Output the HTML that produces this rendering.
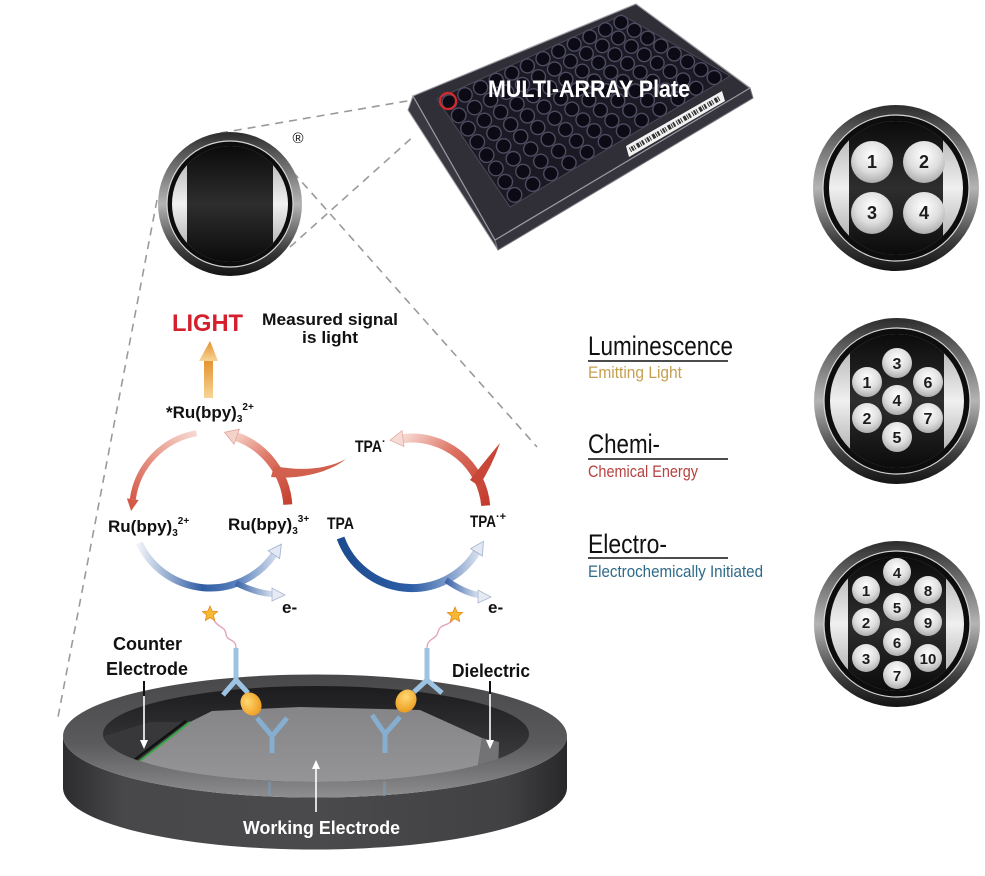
<!DOCTYPE html>
<html><head><meta charset="utf-8"><style>
html,body{margin:0;padding:0;background:#fff;width:985px;height:876px;overflow:hidden;}
svg{display:block;}
text{font-family:"Liberation Sans",sans-serif;}
</style></head><body>
<svg width="985" height="876" viewBox="0 0 985 876" xmlns="http://www.w3.org/2000/svg">
<defs>
 <linearGradient id="metal" x1="0" y1="0" x2="0" y2="1">
  <stop offset="0" stop-color="#2c2c2c"/>
  <stop offset="0.15" stop-color="#575757"/>
  <stop offset="0.5" stop-color="#b4b4b4"/>
  <stop offset="0.82" stop-color="#3c3c3c"/>
  <stop offset="1" stop-color="#141414"/>
 </linearGradient>
 <linearGradient id="band" x1="0" y1="0" x2="0" y2="1">
  <stop offset="0" stop-color="#0b0b0b"/>
  <stop offset="0.5" stop-color="#2e2e2e"/>
  <stop offset="1" stop-color="#0b0b0b"/>
 </linearGradient>
 <linearGradient id="silver" x1="0" y1="0" x2="0" y2="1">
  <stop offset="0" stop-color="#a8a8a8"/>
  <stop offset="0.5" stop-color="#f0f0f0"/>
  <stop offset="1" stop-color="#a0a0a0"/>
 </linearGradient>
 <radialGradient id="spot" cx="0.5" cy="0.35" r="0.7">
  <stop offset="0" stop-color="#ffffff"/>
  <stop offset="0.55" stop-color="#dedede"/>
  <stop offset="1" stop-color="#a4a4a4"/>
 </radialGradient>
 <clipPath id="cpL"><circle cx="230" cy="204" r="58"/></clipPath>
 <clipPath id="cp1"><circle cx="896" cy="188" r="67"/></clipPath>
 <clipPath id="cp2"><circle cx="897" cy="401" r="67"/></clipPath>
 <clipPath id="cp3"><circle cx="897" cy="624" r="67"/></clipPath>
 <clipPath id="hole"><ellipse cx="316" cy="734" rx="213" ry="48"/></clipPath>
 <linearGradient id="rimG" gradientUnits="userSpaceOnUse" x1="0" y1="675" x2="0" y2="798">
  <stop offset="0" stop-color="#48484a"/>
  <stop offset="0.55" stop-color="#5a5a5c"/>
  <stop offset="0.82" stop-color="#78787a"/>
  <stop offset="1" stop-color="#8e8e90"/>
 </linearGradient>
 <linearGradient id="sideG" x1="0" y1="0" x2="1" y2="0">
  <stop offset="0" stop-color="#2c2c2e"/>
  <stop offset="0.12" stop-color="#48484a"/>
  <stop offset="0.5" stop-color="#4a4a4c"/>
  <stop offset="0.88" stop-color="#414143"/>
  <stop offset="1" stop-color="#28282a"/>
 </linearGradient>
 <linearGradient id="holeG" gradientUnits="userSpaceOnUse" x1="0" y1="686" x2="0" y2="760">
  <stop offset="0" stop-color="#1c1c1e"/>
  <stop offset="1" stop-color="#3a3a3c"/>
 </linearGradient>
 <linearGradient id="floorG" gradientUnits="userSpaceOnUse" x1="0" y1="705" x2="0" y2="785">
  <stop offset="0" stop-color="#858587"/>
  <stop offset="1" stop-color="#959597"/>
 </linearGradient>
 <linearGradient id="lbG" gradientUnits="userSpaceOnUse" x1="139" y1="0" x2="280" y2="0">
  <stop offset="0" stop-color="#eef2f8"/>
  <stop offset="0.45" stop-color="#2f5da3"/>
  <stop offset="0.7" stop-color="#5c82bd"/>
  <stop offset="1" stop-color="#dde5f2"/>
 </linearGradient>
 <linearGradient id="rbG" gradientUnits="userSpaceOnUse" x1="340" y1="0" x2="482" y2="0">
  <stop offset="0" stop-color="#1c4a8e"/>
  <stop offset="0.5" stop-color="#2d5ea6"/>
  <stop offset="0.8" stop-color="#8aa5cf"/>
  <stop offset="1" stop-color="#e4e9f3"/>
 </linearGradient>
 <linearGradient id="brG" gradientUnits="userSpaceOnUse" x1="236" y1="0" x2="275" y2="0">
  <stop offset="0" stop-color="#3a64a8"/>
  <stop offset="1" stop-color="#dfe6f2"/>
 </linearGradient>
 <linearGradient id="brG2" gradientUnits="userSpaceOnUse" x1="446" y1="0" x2="480" y2="0">
  <stop offset="0" stop-color="#3a64a8"/>
  <stop offset="1" stop-color="#dfe6f2"/>
 </linearGradient>
 <linearGradient id="raG" gradientUnits="userSpaceOnUse" x1="196" y1="433" x2="133" y2="500">
  <stop offset="0" stop-color="#f7d8d0"/>
  <stop offset="1" stop-color="#d65a48"/>
 </linearGradient>
 <linearGradient id="rrG" gradientUnits="userSpaceOnUse" x1="288" y1="505" x2="237" y2="437">
  <stop offset="0" stop-color="#c5402f"/>
  <stop offset="0.6" stop-color="#de7766"/>
  <stop offset="1" stop-color="#f4c9be"/>
 </linearGradient>
 <linearGradient id="r2G" gradientUnits="userSpaceOnUse" x1="486" y1="506" x2="403" y2="439">
  <stop offset="0" stop-color="#c23a2d"/>
  <stop offset="0.55" stop-color="#dc6f5f"/>
  <stop offset="1" stop-color="#f6d6ce"/>
 </linearGradient>
 <linearGradient id="orG" x1="0" y1="1" x2="0" y2="0">
  <stop offset="0" stop-color="#f7d596"/>
  <stop offset="1" stop-color="#e3902c"/>
 </linearGradient>
 <radialGradient id="blobG" cx="0.4" cy="0.35" r="0.7">
  <stop offset="0" stop-color="#ffd873"/>
  <stop offset="1" stop-color="#ec9a1c"/>
 </radialGradient>
</defs>

<!-- dashed guide lines -->
<g stroke="#9a9a9a" stroke-width="1.6" stroke-dasharray="8 6" fill="none">
 <line x1="220" y1="133" x2="413" y2="100"/>
 <line x1="290" y1="247" x2="415" y2="135"/>
 <line x1="293" y1="172" x2="537" y2="447"/>
 <line x1="157" y1="200" x2="58" y2="717"/>
</g>

<!-- PLATE -->
<g>
 <polygon points="413,96 495,240 498,250 408,110" fill="#3a3941" stroke="#9a99a0" stroke-width="1"/>
 <polygon points="495,240 750,88 753,98 498,250" fill="#36353d" stroke="#75747c" stroke-width="1"/>
 <polygon points="413,96 636,4 750,88 495,240" fill="#302f37" stroke="#9a99a1" stroke-width="1.2"/>
 <polygon points="437,99 622,15 730,76 510,207" fill="#1a1924" stroke="#4a4956" stroke-width="1"/>
 <g id="wells" fill="#0c0b15" stroke="#4d4c60" stroke-width="1.4"></g>
 <polygon points="626,146 722,91 725,101 629,157" fill="#f2f2f2"/>
 <line x1="630" y1="150" x2="720" y2="98" stroke="#333" stroke-width="5" stroke-dasharray="1 1 2 1 1 2 3 1 1 1 2 2"/>
 <circle cx="448" cy="101" r="8" fill="none" stroke="#d8262b" stroke-width="2.2"/>
 <text x="488" y="97" fill="#ffffff" font-weight="bold" font-size="24" textLength="202" lengthAdjust="spacingAndGlyphs">MULTI-ARRAY Plate</text>
</g>

<!-- left zoom circle -->
<g>
 <circle cx="230" cy="204" r="72" fill="url(#metal)"/>
 <circle cx="230" cy="204" r="63" fill="#0d0d0d" stroke="#d6d6d6" stroke-width="1.2"/>
 <circle cx="230" cy="204" r="58" fill="url(#silver)"/>
 <rect x="187" y="146" width="86" height="116" fill="url(#band)" clip-path="url(#cpL)"/>
 <text x="298" y="143" font-size="15" text-anchor="middle" fill="#111">®</text>
</g>

<!-- right circles -->
<g>
 <circle cx="896" cy="188" r="83" fill="url(#metal)"/>
 <circle cx="896" cy="188" r="73" fill="#0d0d0d" stroke="#d6d6d6" stroke-width="1.2"/>
 <circle cx="896" cy="188" r="67" fill="url(#silver)"/>
 <rect x="849" y="121" width="94" height="134" fill="url(#band)" clip-path="url(#cp1)"/>
 <g fill="url(#spot)">
  <circle cx="872" cy="162" r="21"/><circle cx="924" cy="162" r="21"/>
  <circle cx="872" cy="213" r="21"/><circle cx="924" cy="213" r="21"/>
 </g>
 <g font-size="18" font-weight="bold" fill="#1c1c1c" text-anchor="middle">
  <text x="872" y="168">1</text><text x="924" y="168">2</text>
  <text x="872" y="219">3</text><text x="924" y="219">4</text>
 </g>
</g>
<g>
 <circle cx="897" cy="401" r="83" fill="url(#metal)"/>
 <circle cx="897" cy="401" r="73" fill="#0d0d0d" stroke="#d6d6d6" stroke-width="1.2"/>
 <circle cx="897" cy="401" r="67" fill="url(#silver)"/>
 <rect x="850" y="334" width="94" height="134" fill="url(#band)" clip-path="url(#cp2)"/>
 <g fill="url(#spot)">
  <circle cx="897" cy="363" r="15"/><circle cx="867" cy="382" r="15"/><circle cx="928" cy="382" r="15"/>
  <circle cx="897" cy="400" r="15"/><circle cx="867" cy="418" r="15"/><circle cx="928" cy="418" r="15"/>
  <circle cx="897" cy="437" r="15"/>
 </g>
 <g font-size="16" font-weight="bold" fill="#1c1c1c" text-anchor="middle">
  <text x="897" y="369">3</text><text x="867" y="388">1</text><text x="928" y="388">6</text>
  <text x="897" y="406">4</text><text x="867" y="424">2</text><text x="928" y="424">7</text>
  <text x="897" y="443">5</text>
 </g>
</g>
<g>
 <circle cx="897" cy="624" r="83" fill="url(#metal)"/>
 <circle cx="897" cy="624" r="73" fill="#0d0d0d" stroke="#d6d6d6" stroke-width="1.2"/>
 <circle cx="897" cy="624" r="67" fill="url(#silver)"/>
 <rect x="848" y="557" width="98" height="134" fill="url(#band)" clip-path="url(#cp3)"/>
 <g fill="url(#spot)">
  <circle cx="897" cy="572" r="14"/><circle cx="866" cy="590" r="14"/><circle cx="928" cy="590" r="14"/>
  <circle cx="897" cy="607" r="14"/><circle cx="866" cy="622" r="14"/><circle cx="928" cy="622" r="14"/>
  <circle cx="897" cy="642" r="14"/><circle cx="866" cy="658" r="14"/><circle cx="928" cy="658" r="14"/>
  <circle cx="897" cy="675" r="14"/>
 </g>
 <g font-size="15" font-weight="bold" fill="#1c1c1c" text-anchor="middle">
  <text x="897" y="578">4</text><text x="866" y="596">1</text><text x="928" y="596">8</text>
  <text x="897" y="613">5</text><text x="866" y="628">2</text><text x="928" y="628">9</text>
  <text x="897" y="648">6</text><text x="866" y="664">3</text><text x="928" y="664">10</text>
  <text x="897" y="681">7</text>
 </g>
</g>

<!-- ECL word definitions -->
<g>
 <text x="588" y="355" font-size="27" fill="#111" textLength="145" lengthAdjust="spacingAndGlyphs">Luminescence</text>
 <line x1="588" y1="361" x2="728" y2="361" stroke="#111" stroke-width="1.5"/>
 <text x="588" y="378" font-size="17" fill="#c6a052" textLength="94" lengthAdjust="spacingAndGlyphs">Emitting Light</text>
 <text x="588" y="453" font-size="27" fill="#111" textLength="72" lengthAdjust="spacingAndGlyphs">Chemi-</text>
 <line x1="588" y1="459" x2="728" y2="459" stroke="#111" stroke-width="1.5"/>
 <text x="588" y="477" font-size="17" fill="#b5423f" textLength="110" lengthAdjust="spacingAndGlyphs">Chemical Energy</text>
 <text x="588" y="553" font-size="27" fill="#111" textLength="79" lengthAdjust="spacingAndGlyphs">Electro-</text>
 <line x1="588" y1="558" x2="728" y2="558" stroke="#111" stroke-width="1.5"/>
 <text x="588" y="577" font-size="17" fill="#2e6a8a" textLength="175" lengthAdjust="spacingAndGlyphs">Electrochemically Initiated</text>
</g>

<!-- LIGHT & arrow -->
<text x="172" y="331" font-size="24" font-weight="bold" fill="#d4202c" textLength="71" lengthAdjust="spacingAndGlyphs">LIGHT</text>
<text x="262" y="325" font-size="17" font-weight="bold" fill="#111" textLength="136" lengthAdjust="spacingAndGlyphs">Measured signal</text>
<text x="302" y="343" font-size="17" font-weight="bold" fill="#111" textLength="56" lengthAdjust="spacingAndGlyphs">is light</text>
<g fill="url(#orG)">
 <rect x="204" y="359" width="9" height="39"/>
 <polygon points="199,361 218,361 210,341"/>
</g>

<!-- chemistry cycle arrows -->
<g fill="none" stroke-linecap="butt">
 <path d="M196.5 433.2 A78 78 0 0 0 132.8 499.2" stroke="url(#raG)" stroke-width="6"/>
 <path d="M287.8 504.6 A78 78 0 0 0 236.7 436.7" stroke="url(#rrG)" stroke-width="9"/>
 <path d="M485.7 505.6 A74 74 0 0 0 403 438.6" stroke="url(#r2G)" stroke-width="9"/>
 <path d="M139.3 543 A78 78 0 0 0 273.9 554.7" stroke="url(#lbG)" stroke-width="7"/>
 <path d="M236 583 Q256 593 272 594" stroke="url(#brG)" stroke-width="6"/>
 <path d="M340.6 538 A76 76 0 0 0 476.5 552.3" stroke="url(#rbG)" stroke-width="8"/>
 <path d="M446 580 Q463 592 478 595" stroke="url(#brG2)" stroke-width="6"/>
</g>
<polygon points="131.1,511 138.7,500 126.9,498.4" fill="#d45a48"/>
<polygon points="224.5,432.3 239.4,429.2 234,444.2" fill="#f3d2ca" stroke="#e0a89c" stroke-width="0.8"/>
<polygon points="390.1,440.2 404,446.5 402,430.7" fill="#f6dcd5" stroke="#e3aca0" stroke-width="0.8"/>
<path d="M346 459 C330 472 300 480 271 477 L274 466 C300 471 325 470 346 459 Z" fill="#d2604e"/>
<path d="M470 480 Q484 462 500 443 Q492 466 479 486 Z" fill="#c84638"/>
<polygon points="281.4,544.1 279.6,558.7 268.2,550.7" fill="#e3e8f2" stroke="#9fb0cf" stroke-width="0.8"/>
<polygon points="285,595 272,588 272,601" fill="#e6ebf3" stroke="#a8b6d0" stroke-width="0.8"/>
<polygon points="483.4,541.3 482.4,556 470.6,548.6" fill="#e3e8f2" stroke="#9fb0cf" stroke-width="0.8"/>
<polygon points="491,597 478,590 478,603" fill="#e6ebf3" stroke="#a8b6d0" stroke-width="0.8"/>

<!-- chemistry labels -->
<g font-weight="bold" fill="#111">
 <text x="166" y="418" font-size="17">*Ru(bpy)<tspan font-size="10" dy="4">3</tspan><tspan font-size="10" dy="-12">2+</tspan></text>
 <text x="108" y="532" font-size="17">Ru(bpy)<tspan font-size="10" dy="4">3</tspan><tspan font-size="10" dy="-12">2+</tspan></text>
 <text x="228" y="530" font-size="17">Ru(bpy)<tspan font-size="10" dy="4">3</tspan><tspan font-size="10" dy="-12">3+</tspan></text>
 <text x="327" y="529" font-size="17" textLength="27" lengthAdjust="spacingAndGlyphs">TPA</text>
 <text x="470" y="527" font-size="17"><tspan textLength="26" lengthAdjust="spacingAndGlyphs">TPA</tspan><tspan font-size="11" dy="-7">·+</tspan></text>
 <text x="355" y="452" font-size="17"><tspan textLength="27" lengthAdjust="spacingAndGlyphs">TPA</tspan><tspan font-size="11" dy="-7">·</tspan></text>
 <text x="282" y="613" font-size="17">e-</text>
 <text x="488" y="613" font-size="17">e-</text>
</g>

<!-- WELL -->
<g>
 <path d="M63 736 A252 61.5 0 0 0 567 736 L567 788 A252 61.5 0 0 1 63 788 Z" fill="url(#sideG)"/>
 <ellipse cx="315" cy="736" rx="252" ry="61.5" fill="url(#rimG)"/>
 <ellipse cx="316" cy="734" rx="213" ry="48" fill="url(#holeG)"/>
 <g clip-path="url(#hole)">
  <polygon points="104,736 150,722 190,722 137,763 112,770" fill="#38383a"/>
  <polygon points="137,763 190,722 212,711 300,707 420,710 482,738 477,772 316,790 137,785" fill="url(#floorG)"/>
  <polygon points="482,738 499,742 498,772 477,772" fill="#737375"/>
  <line x1="133" y1="761" x2="186" y2="721" stroke="#111" stroke-width="2.5"/>
  <line x1="137" y1="763" x2="190" y2="722" stroke="#3aa646" stroke-width="2"/>
 </g>
 <rect x="268" y="782" width="3" height="14" fill="#7f9ab0" opacity="0.6"/>
 <rect x="383" y="782" width="3" height="14" fill="#7f9ab0" opacity="0.6"/>
</g>

<!-- antibodies -->
<g stroke-linecap="butt" fill="none">
 <path d="M272 753 L272 735 M272 736 L257 718 M272 736 L287 718" stroke="#86aed0" stroke-width="5"/>
 <path d="M236 648 L236 681 M236 680 L223 695 M236 680 L248 693" stroke="#9cc3e2" stroke-width="5"/>
 <path d="M385 753 L385 733 M385 734 L372 715 M385 734 L400 717" stroke="#86aed0" stroke-width="5"/>
 <path d="M427 648 L427 681 M427 680 L414 692 M427 680 L442 693" stroke="#9cc3e2" stroke-width="5"/>
 <path d="M236 648 C236 638 227 642 226 634 S218 628 214 620" stroke="#e3a4bd" stroke-width="1.4"/>
 <path d="M427 648 C427 638 436 640 438 632 S447 626 452 621" stroke="#e3a4bd" stroke-width="1.4"/>
</g>
<ellipse cx="251" cy="704" rx="10" ry="12" transform="rotate(-30 251 704)" fill="url(#blobG)"/>
<ellipse cx="406" cy="701" rx="10" ry="12" transform="rotate(30 406 701)" fill="url(#blobG)"/>
<path transform="translate(210 614)" d="M0 -8 L2.12 -2.91 L7.61 -2.47 L3.42 1.11 L4.7 6.47 L0 3.6 L-4.7 6.47 L-3.42 1.11 L-7.61 -2.47 L-2.12 -2.91 Z" fill="#f6b931" stroke="#e38c1c" stroke-width="0.8"/>
<path transform="translate(455 615)" d="M0 -8 L2.12 -2.91 L7.61 -2.47 L3.42 1.11 L4.7 6.47 L0 3.6 L-4.7 6.47 L-3.42 1.11 L-7.61 -2.47 L-2.12 -2.91 Z" fill="#f6b931" stroke="#e38c1c" stroke-width="0.8"/>

<!-- well labels -->
<g font-weight="bold" font-size="18" fill="#111">
 <text x="113" y="650">Counter</text>
 <text x="106" y="675">Electrode</text>
 <text x="452" y="677" textLength="78" lengthAdjust="spacingAndGlyphs">Dielectric</text>
</g>
<line x1="144" y1="681" x2="144" y2="696" stroke="#111" stroke-width="2"/>
<line x1="144" y1="696" x2="144" y2="742" stroke="#fff" stroke-width="1.6"/>
<polygon points="140,740 148,740 144,749" fill="#fff"/>
<line x1="490" y1="681" x2="490" y2="694" stroke="#111" stroke-width="2"/>
<line x1="490" y1="694" x2="490" y2="742" stroke="#fff" stroke-width="1.6"/>
<polygon points="486,740 494,740 490,749" fill="#fff"/>
<line x1="316" y1="812" x2="316" y2="767" stroke="#fff" stroke-width="1.6"/>
<polygon points="312,769 320,769 316,760" fill="#fff"/>
<text x="243" y="834" font-size="18" font-weight="bold" fill="#fff" textLength="157" lengthAdjust="spacingAndGlyphs">Working Electrode</text>
</svg>
<script>
(function(){
 var g=document.getElementById('wells');
 if(!g) return;
 var L=[437,99],T=[622,15],R=[730,76],B=[510,207];
 function P(u,v){return [(1-u)*(1-v)*L[0]+u*(1-v)*T[0]+u*v*R[0]+(1-u)*v*B[0],(1-u)*(1-v)*L[1]+u*(1-v)*T[1]+u*v*R[1]+(1-u)*v*B[1]];}
 var ns='http://www.w3.org/2000/svg';
 for(var i=0;i<12;i++){for(var j=0;j<8;j++){
  var u=(i+.5)/12,v=(j+.5)/8,c=P(u,v);
  var a=P(u+1/24,v),b=P(u-1/24,v),d=P(u,v+1/16),e=P(u,v-1/16);
  var du=Math.sqrt((a[0]-b[0])*(a[0]-b[0])+(a[1]-b[1])*(a[1]-b[1]));
  var dv=Math.sqrt((d[0]-e[0])*(d[0]-e[0])+(d[1]-e[1])*(d[1]-e[1]));
  var r=0.45*Math.min(du,dv);
  var el=document.createElementNS(ns,'circle');
  el.setAttribute('cx',c[0].toFixed(1));el.setAttribute('cy',c[1].toFixed(1));el.setAttribute('r',r.toFixed(1));
  g.appendChild(el);
 }}
})();
</script>
</body></html>
